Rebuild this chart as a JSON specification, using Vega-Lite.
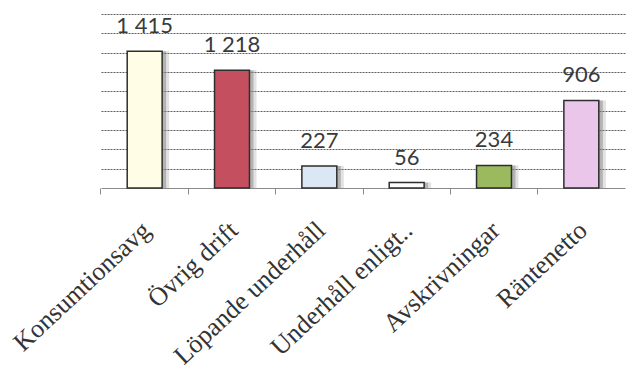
{
  "$schema": "https://vega.github.io/schema/vega-lite/v6.json",
  "width": 524,
  "height": 174,
  "autosize": {"type": "none"},
  "padding": {"left": 101, "top": 14, "right": 2, "bottom": 179},
  "background": "#ffffff",
  "config": {
    "view": {"stroke": null},
    "locale": {"number": {"decimal": ",", "thousands": " ", "grouping": [3], "currency": ["", " kr"]}}
  },
  "data": {
    "values": [
      {"kategori": "Konsumtionsavg", "belopp": 1415},
      {"kategori": "Övrig drift", "belopp": 1218},
      {"kategori": "Löpande underhåll", "belopp": 227},
      {"kategori": "Underhåll enligt..", "belopp": 56},
      {"kategori": "Avskrivningar", "belopp": 234},
      {"kategori": "Räntenetto", "belopp": 906}
    ]
  },
  "encoding": {
    "x": {
      "field": "kategori",
      "type": "nominal",
      "sort": null,
      "title": null,
      "scale": {"paddingInner": 0.6, "paddingOuter": 0.3},
      "axis": {
        "bandPosition": -0.75,
        "labelOffset": 2,
        "labelAngle": -43,
        "labelAlign": "right",
        "labelBaseline": "middle",
        "labelFont": "Liberation Serif",
        "labelFontSize": 26,
        "labelColor": "#333333",
        "labelPadding": 32,
        "labelLimit": 400,
        "domainColor": "#8a8a8a",
        "tickColor": "#8a8a8a",
        "tickSize": 6,
        "grid": false
      }
    },
    "y": {
      "field": "belopp",
      "type": "quantitative",
      "title": null,
      "scale": {"domain": [0, 1800], "nice": false},
      "axis": {
        "values": [200, 400, 600, 800, 1000, 1200, 1400, 1600, 1800],
        "labels": false,
        "ticks": false,
        "domain": false,
        "grid": true,
        "gridColor": "#5f5f5f",
        "gridDash": [2, 1],
        "gridWidth": 1
      }
    }
  },
  "layer": [
    {
      "mark": {"type": "bar", "color": "#8c8c8c", "opacity": 0.25, "xOffset": 7},
      "encoding": {}
    },
    {
      "mark": {"type": "bar", "color": "#7a7a7a", "opacity": 0.45, "xOffset": 4},
      "encoding": {}
    },
    {
      "mark": {"type": "bar", "stroke": "#2e2e2e", "strokeWidth": 1.5},
      "encoding": {
        "color": {
          "field": "kategori",
          "type": "nominal",
          "legend": null,
          "scale": {
            "domain": ["Konsumtionsavg", "Övrig drift", "Löpande underhåll", "Underhåll enligt..", "Avskrivningar", "Räntenetto"],
            "range": ["#fffde6", "#c4505f", "#dce7f6", "#ffffff", "#9bb95e", "#e9c6ea"]
          }
        }
      }
    },
    {
      "mark": {"type": "text", "baseline": "alphabetic", "dy": -18, "font": "Lato", "fontSize": 22, "color": "#3a3a3a"},
      "encoding": {
        "text": {"field": "belopp", "type": "quantitative", "format": ",d"}
      }
    }
  ]
}
